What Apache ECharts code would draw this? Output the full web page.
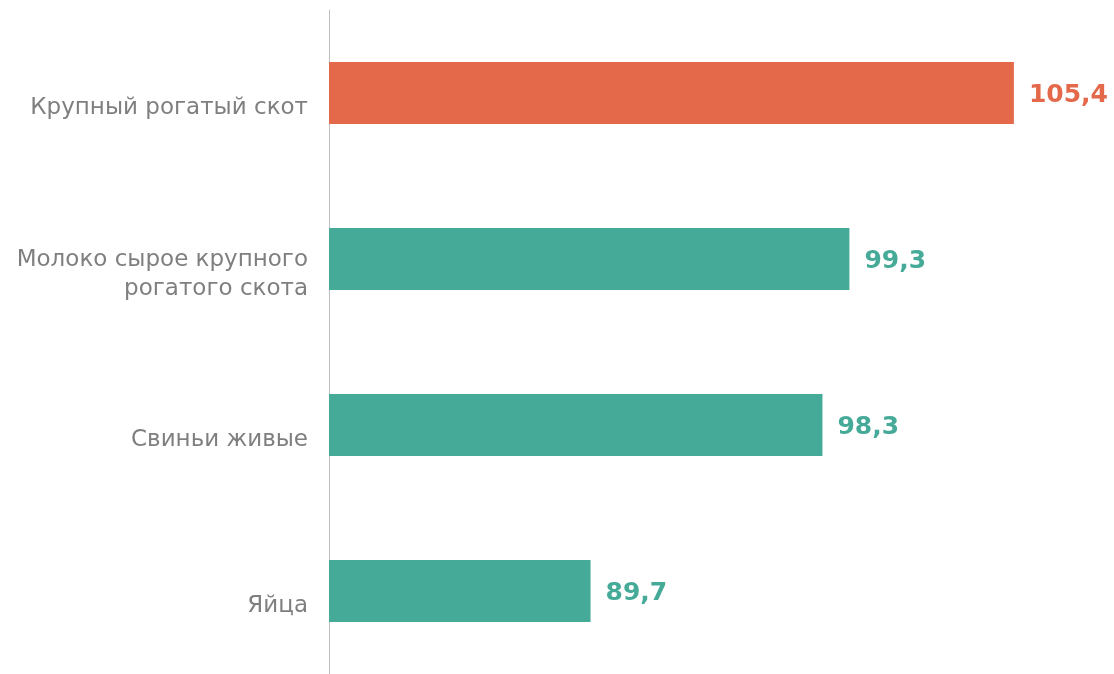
<!DOCTYPE html>
<html><head><meta charset="utf-8">
<script src="https://cdn.jsdelivr.net/npm/echarts@6/dist/echarts.min.js"></script>
<style>html,body{margin:0;padding:0;background:#fff}#c{width:1114px;height:674px}</style>
</head><body><div id="c"></div>
<script>
const categories = ['Крупный рогатый скот', 'Молоко сырое крупного\nрогатого скота', 'Свиньи живые', 'Яйца'];
const values = [105.4, 99.3, 98.3, 89.7];
const barColors = ['#E4694A', '#46AA98', '#46AA98', '#46AA98'];
const axisMin = 80, axisMax = 108;

const chart = echarts.init(document.getElementById('c'), null, {renderer: 'canvas'});
chart.setOption({
  animation: false,
  grid: {left: 329, top: 10, width: 755, height: 668},
  xAxis: {type: 'value', min: axisMin, max: axisMax, show: false},
  yAxis: {
    type: 'category', data: categories, inverse: true,
    axisLine: {show: true, lineStyle: {color: '#BFBFBF', width: 1}},
    axisTick: {show: false},
    axisLabel: {
      color: '#7F7F7F', fontSize: 23, fontFamily: 'DejaVu Sans', margin: 21, lineHeight: 29, align: 'right',
      formatter: v => '{s| }\n' + v.split('\n').map(t => '{a|' + t + '}').join('\n'),
      rich: {
        s: {fontSize: 1, lineHeight: 31, height: 31},
        a: {color: '#7F7F7F', fontSize: 23, fontFamily: 'DejaVu Sans', lineHeight: 29, align: 'right'}
      }
    }
  },
  series: [{
    type: 'bar', barWidth: 62,
    data: values.map((v, i) => ({value: v, itemStyle: {color: barColors[i]},
      label: {color: barColors[i]}})),
    label: {show: true, position: 'right', distance: 15, offset: [0, 2], fontSize: 25, fontWeight: 'bold',
      fontFamily: 'DejaVu Sans',
      formatter: p => String(p.value).replace('.', ',')}
  }]
});
</script></body></html>
